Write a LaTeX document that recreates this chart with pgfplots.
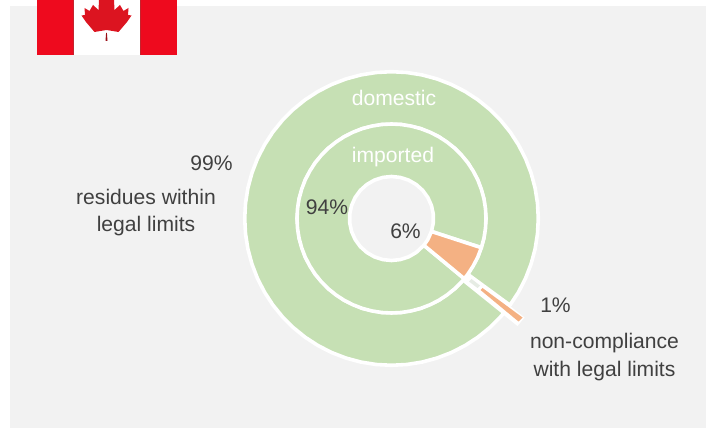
\documentclass[border=0pt]{standalone}
\usepackage{fontspec}
\setmainfont{Liberation Sans}
\usepackage{pgfplots}
\pgfplotsset{compat=1.18}
\definecolor{panel}{HTML}{F2F2F2}
\definecolor{okgreen}{HTML}{C6E0B4}
\definecolor{badorange}{HTML}{F4B183}
\definecolor{flagred}{HTML}{EE0A1E}
\definecolor{leafred}{HTML}{DC1420}
\definecolor{flagedge}{HTML}{C4242E}
\definecolor{ink}{HTML}{404040}
\definecolor{patch}{HTML}{E6ECE4}
\begin{document}
\begin{tikzpicture}[
  lab/.style={font=\fontsize{21.1}{25}\selectfont, text=ink, inner sep=0pt, anchor=center},
  wlab/.style={lab, text=white}]
\begin{axis}[
  scale only axis, width=711pt, height=428pt,
  xmin=-391.5, xmax=319.5, ymin=-209.5, ymax=218.5,
  hide axis]

% page and panel
\addplot[fill=white, draw=none] coordinates {(-391.5,-209.5) (319.5,-209.5) (319.5,218.5) (-391.5,218.5)} -- cycle;
\addplot[fill=panel, draw=none] coordinates {(-381.5,-209.5) (314.5,-209.5) (314.5,212.5) (-381.5,212.5)} -- cycle;

% flag
\addplot[fill=flagred, draw=none] coordinates {(-354.5,163.5) (-318.2,163.5) (-318.2,218.5) (-354.5,218.5)} -- cycle;
\addplot[fill=flagred, draw=none] coordinates {(-251.2,163.5) (-214.5,163.5) (-214.5,218.5) (-251.2,218.5)} -- cycle;
\addplot[fill=white, draw=none] coordinates {(-318.2,163.5) (-251.2,163.5) (-251.2,218.5) (-318.2,218.5)} -- cycle;
\addplot[fill=flagedge, draw=none] coordinates {(-318.8,163.5) (-317.6,163.5) (-317.6,218.5) (-318.8,218.5)} -- cycle;
\addplot[fill=flagedge, draw=none] coordinates {(-251.8,163.5) (-250.6,163.5) (-250.6,218.5) (-251.8,218.5)} -- cycle;
\addplot[fill=leafred, draw=none] coordinates {(-277.5,218.5) (-277,208.5) (-271.5,213.5) (-268,207.5) (-263,210.5) (-263.5,203.5) (-260,203) (-264.5,196.5) (-273,186.5) (-285,188.5)
  (-297,186.5) (-305.5,196.5) (-310,203) (-306.5,203.5) (-307,210.5) (-302,207.5) (-298.5,213.5) (-293,208.5) (-292.5,218.5)} -- cycle;
\addplot[fill=leafred!70!black, draw=none] coordinates {(-285.4,185.5) (-284.6,185.5) (-284,177.5) (-286,177.5)} -- cycle;

% domestic ring: 99 % within limits, sweep 356.4 degrees clockwise
\addplot[data cs=polar, fill=okgreen, draw=white, line width=3.6pt, line join=round] coordinates {
  (-39.8,146.8) (-42,146.8) (-48,146.8) (-54,146.8) (-60,146.8) (-66,146.8) (-72,146.8) (-78,146.8) (-84,146.8) (-90,146.8)
  (-96,146.8) (-102,146.8) (-108,146.8) (-114,146.8) (-120,146.8) (-126,146.8) (-132,146.8) (-138,146.8) (-144,146.8) (-150,146.8)
  (-156,146.8) (-162,146.8) (-168,146.8) (-174,146.8) (-180,146.8) (-186,146.8) (-192,146.8) (-198,146.8) (-204,146.8) (-210,146.8)
  (-216,146.8) (-222,146.8) (-228,146.8) (-234,146.8) (-240,146.8) (-246,146.8) (-252,146.8) (-258,146.8) (-264,146.8) (-270,146.8)
  (-276,146.8) (-282,146.8) (-288,146.8) (-294,146.8) (-300,146.8) (-306,146.8) (-312,146.8) (-318,146.8) (-324,146.8) (-330,146.8)
  (-336,146.8) (-342,146.8) (-348,146.8) (-354,146.8) (-360,146.8) (-366,146.8) (-372,146.8) (-378,146.8) (-384,146.8) (-390,146.8) (-396.2,146.8)
  (-396.2,94.5) (-384,94.5) (-372,94.5) (-360,94.5) (-348,94.5) (-336,94.5) (-324,94.5) (-312,94.5) (-300,94.5) (-288,94.5)
  (-276,94.5) (-264,94.5) (-252,94.5) (-240,94.5) (-228,94.5) (-216,94.5) (-204,94.5) (-192,94.5) (-180,94.5) (-168,94.5)
  (-156,94.5) (-144,94.5) (-132,94.5) (-120,94.5) (-108,94.5) (-96,94.5) (-84,94.5) (-72,94.5) (-60,94.5) (-48,94.5) (-39.8,94.5)
} -- cycle;

% domestic ring: the 1 % slice, pulled out of the ring
\addplot[fill=white, draw=none] coordinates {(76.5,-54) (70,-62.5) (126,-107.5) (133,-99)} -- cycle;
\addplot[fill=patch, draw=none] coordinates {(77.5,-63) (80,-60.5) (88.5,-67) (86,-69.5)} -- cycle;
\addplot[fill=badorange, draw=none] coordinates {(89,-71.5) (91,-69.5) (131,-99) (127,-103)} -- cycle;

% imported ring: 94 % within limits, sweep 338.4 degrees clockwise
\addplot[data cs=polar, fill=okgreen, draw=white, line width=3.6pt, line join=round] coordinates {
  (-39.6,94.5) (-42,94.5) (-48,94.5) (-54,94.5) (-60,94.5) (-66,94.5) (-72,94.5) (-78,94.5) (-84,94.5) (-90,94.5)
  (-96,94.5) (-102,94.5) (-108,94.5) (-114,94.5) (-120,94.5) (-126,94.5) (-132,94.5) (-138,94.5) (-144,94.5) (-150,94.5)
  (-156,94.5) (-162,94.5) (-168,94.5) (-174,94.5) (-180,94.5) (-186,94.5) (-192,94.5) (-198,94.5) (-204,94.5) (-210,94.5)
  (-216,94.5) (-222,94.5) (-228,94.5) (-234,94.5) (-240,94.5) (-246,94.5) (-252,94.5) (-258,94.5) (-264,94.5) (-270,94.5)
  (-276,94.5) (-282,94.5) (-288,94.5) (-294,94.5) (-300,94.5) (-306,94.5) (-312,94.5) (-318,94.5) (-324,94.5) (-330,94.5)
  (-336,94.5) (-342,94.5) (-348,94.5) (-354,94.5) (-360,94.5) (-366,94.5) (-372,94.5) (-378,94.5)
  (-378,42) (-366,42) (-354,42) (-342,42) (-330,42) (-318,42) (-306,42) (-294,42) (-282,42) (-270,42)
  (-258,42) (-246,42) (-234,42) (-222,42) (-210,42) (-198,42) (-186,42) (-174,42) (-162,42) (-150,42)
  (-138,42) (-126,42) (-114,42) (-102,42) (-90,42) (-78,42) (-66,42) (-54,42) (-39.6,42)
} -- cycle;

% imported ring: the 6 % slice
\addplot[data cs=polar, fill=badorange, draw=white, line width=3.6pt, line join=round] coordinates {
  (-18,94.5) (-24,94.5) (-30,94.5) (-36,94.5) (-39.6,94.5) (-39.6,42) (-30,42) (-18,42)
} -- cycle;

% labels
\node[lab]  at (axis cs:-180,55.5)    {99\%};
\node[lab]  at (axis cs:-245.5,22)    {residues within};
\node[lab]  at (axis cs:-245.5,-7.5)  {legal limits};
\node[wlab] at (axis cs:2.5,121)      {domestic};
\node[wlab] at (axis cs:1.5,61.5)     {imported};
\node[lab]  at (axis cs:-64.5,11.5)   {94\%};
\node[lab]  at (axis cs:14,-13)       {6\%};
\node[lab]  at (axis cs:164,-87)      {1\%};
\node[lab]  at (axis cs:213,-125)     {non-compliance};
\node[lab]  at (axis cs:213,-153)     {with legal limits};
\end{axis}
\end{tikzpicture}
\end{document}
